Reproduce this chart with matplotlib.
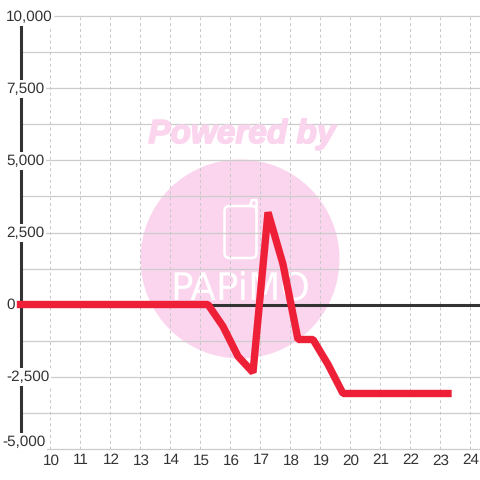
import numpy as np
import matplotlib
matplotlib.use('Agg')
import matplotlib.pyplot as plt
import matplotlib.patheffects as pe
from matplotlib.patches import Circle, FancyBboxPatch
from matplotlib.transforms import IdentityTransform, offset_copy

plt.rcParams['font.family'] = ['Liberation Sans', 'DejaVu Sans']
plt.rcParams['text.hinting'] = 'no_hinting'

# chart values
hours = [9, 15.25, 15.75, 16.25, 16.75, 17.25, 17.75, 18.25, 18.75, 19.25, 19.75, 23.25]
values = [0, 0, -760, -1800, -2360, 3200, 1400, -1215, -1215, -2080, -3090, -3090]
x_ticks = list(range(10, 25))
y_major = [-5000, -2500, 0, 2500, 5000, 7500, 10000]
y_minor = [-3750, -1250, 1250, 3750, 6250, 8750]
y_labels = ['-5,000', '-2,500', '0', '2,500', '5,000', '7,500', '10,000']

fig = plt.figure(figsize=(4.8, 4.8), dpi=100)
ax = fig.add_axes([20.5 / 480, 31.5 / 480, 459.5 / 480, 432 / 480])
ax.set_xlim(9, 24.317)
ax.set_ylim(-5000, 10000)

for s in ['top', 'right', 'bottom', 'left']:
    ax.spines[s].set_visible(False)
ax.tick_params(left=False, bottom=False, labelleft=False, labelbottom=False)

# watermark, in pixels
pix = IdentityTransform()
pink = '#fbd5ee'
ax.add_patch(Circle((240, 480 - 259), 99.5, transform=pix, fc=pink, ec='none', zorder=0, clip_on=False))
ax.add_patch(FancyBboxPatch((224.5, 480 - 258), 32, 52, boxstyle='round,pad=0,rounding_size=5', transform=pix,
                            fc='none', ec='white', lw=1.8, zorder=0.5))
ax.plot([250, 252, 256.5, 256.5], [480 - 206, 480 - 200, 480 - 200, 480 - 212], transform=pix, color='white', lw=1.8, zorder=0.5)
fig.text(242 / 480, 1 - 134.5 / 480, 'Powered by', color=pink, fontsize=24, fontweight='bold', fontstyle='italic',
         ha='center', va='center', zorder=0.2, path_effects=[pe.withStroke(linewidth=1.2, foreground=pink)])
ax.text(240, 480 - 290, 'PAPiMO', transform=pix, color='white', fontsize=27, fontfamily='Liberation Sans Narrow',
        ha='center', va='center', zorder=0.5)

# grid
for v in y_major + y_minor:
    if v != 0:
        ax.axhline(v, color='#cccccc', lw=0.9, zorder=1, clip_on=False)
for h in x_ticks:
    ax.axvline(h, color='#c8c8c8', lw=0.72, ls=(0, (2.9, 2.9)), zorder=1)

ax.axhline(0, color='#333333', lw=2.2, zorder=2)
ax.axvline(9, color='#333333', lw=2.2, zorder=2, clip_on=False)

ax.plot(hours, values, color='#ee2038', lw=5.3, solid_capstyle='projecting', solid_joinstyle='bevel', zorder=3, clip_on=False)

# tick labels sit on white boxes and cut the axis lines
ytrans = ax.get_yaxis_transform()
for v, lab in zip(y_major, y_labels):
    dx, dy = -14.5, -0.5
    if v == -5000:
        dx, dy = -18.5, 6.5
    tr = offset_copy(ytrans, fig=fig, x=dx, y=dy, units='dots')
    ax.text(0, v, lab, transform=tr, fontsize=11, color='#333333', ha='left', va='center', zorder=4,
            clip_on=False, bbox=dict(fc='white', ec='none', pad=1.2))
for h in x_ticks:
    tr = offset_copy(ax.get_xaxis_transform(), fig=fig, x=0.5, y=-12, units='dots')
    ax.text(h, 0, str(h), transform=tr, fontsize=11, color='#333333', ha='center', va='center', zorder=4,
            clip_on=False)

fig.savefig('out.png', dpi=100)
